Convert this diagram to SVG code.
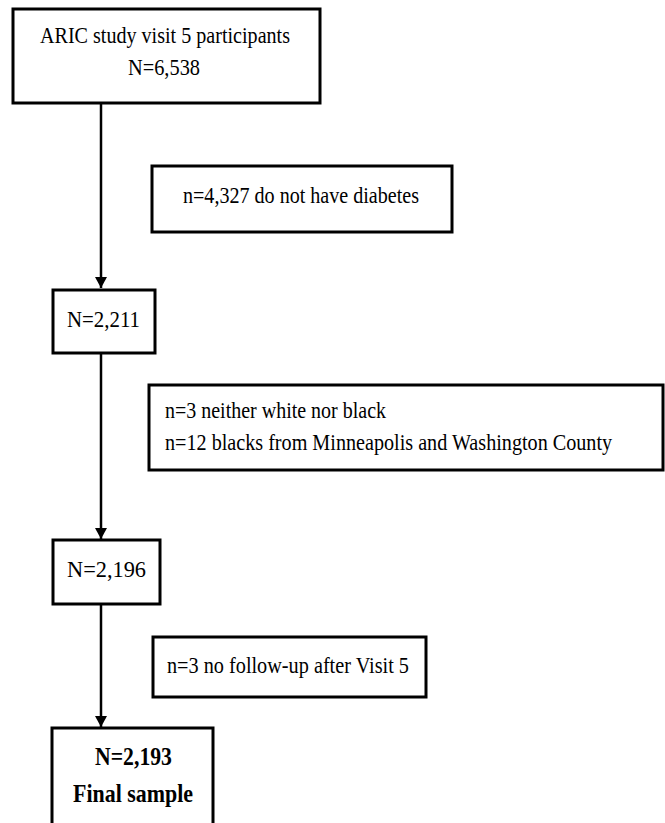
<svg xmlns="http://www.w3.org/2000/svg" width="665" height="823" viewBox="0 0 665 823">
<style>
.box{fill:#fff;stroke:#000;stroke-width:3}
.t{font-family:"Liberation Serif","Times New Roman",serif;font-size:24px;fill:#000}
.tb{font-family:"Liberation Serif","Times New Roman",serif;font-size:25px;font-weight:bold;fill:#000}
.c{stroke:#000;stroke-width:2.5;fill:none}
</style>
<defs>
<marker id="ah" markerWidth="12" markerHeight="12" refX="11" refY="6" orient="auto" markerUnits="userSpaceOnUse">
<path d="M0,0 L11,6 L0,12 Z" fill="#000"/>
</marker>
</defs>
<rect width="665" height="823" fill="#fff"/>
<g id="connectors">
<line class="c" x1="101" y1="104" x2="101" y2="288" marker-end="url(#ah)"/>
<line class="c" x1="101" y1="353" x2="101" y2="539" marker-end="url(#ah)"/>
<line class="c" x1="101" y1="604" x2="101" y2="727" marker-end="url(#ah)"/>
</g>
<g id="n1">
<rect class="box" x="13" y="9" width="307" height="94"/>
<text class="t" x="40" y="43" textLength="250" lengthAdjust="spacingAndGlyphs">ARIC study visit 5 participants</text>
<text class="t" x="128" y="75" textLength="72" lengthAdjust="spacingAndGlyphs">N=6,538</text>
</g>
<g id="e1">
<rect class="box" x="152" y="166" width="300" height="66"/>
<text class="t" x="183" y="203" textLength="236" lengthAdjust="spacingAndGlyphs">n=4,327 do not have diabetes</text>
</g>
<g id="n2">
<rect class="box" x="53" y="290" width="102" height="63"/>
<text class="t" x="67" y="327" textLength="73" lengthAdjust="spacingAndGlyphs">N=2,211</text>
</g>
<g id="e2">
<rect class="box" x="149" y="385" width="514" height="85"/>
<text class="t" x="165" y="418" textLength="221" lengthAdjust="spacingAndGlyphs">n=3 neither white nor black</text>
<text class="t" transform="translate(165,450) scale(0.85,1)" x="0" y="0" textLength="526" lengthAdjust="spacingAndGlyphs">n=12 blacks from Minneapolis and Washington County</text>
</g>
<g id="n3">
<rect class="box" x="53" y="540" width="107" height="64"/>
<text class="t" x="67" y="577" textLength="79" lengthAdjust="spacingAndGlyphs">N=2,196</text>
</g>
<g id="e3">
<rect class="box" x="153" y="637" width="273" height="60"/>
<text class="t" x="167" y="673" textLength="242" lengthAdjust="spacingAndGlyphs">n=3 no follow-up after Visit 5</text>
</g>
<g id="n4">
<rect class="box" x="52" y="728" width="161" height="110"/>
<text class="tb" x="95" y="765" textLength="77" lengthAdjust="spacingAndGlyphs">N=2,193</text>
<text class="tb" x="73" y="802" textLength="120" lengthAdjust="spacingAndGlyphs">Final sample</text>
</g>
</svg>
